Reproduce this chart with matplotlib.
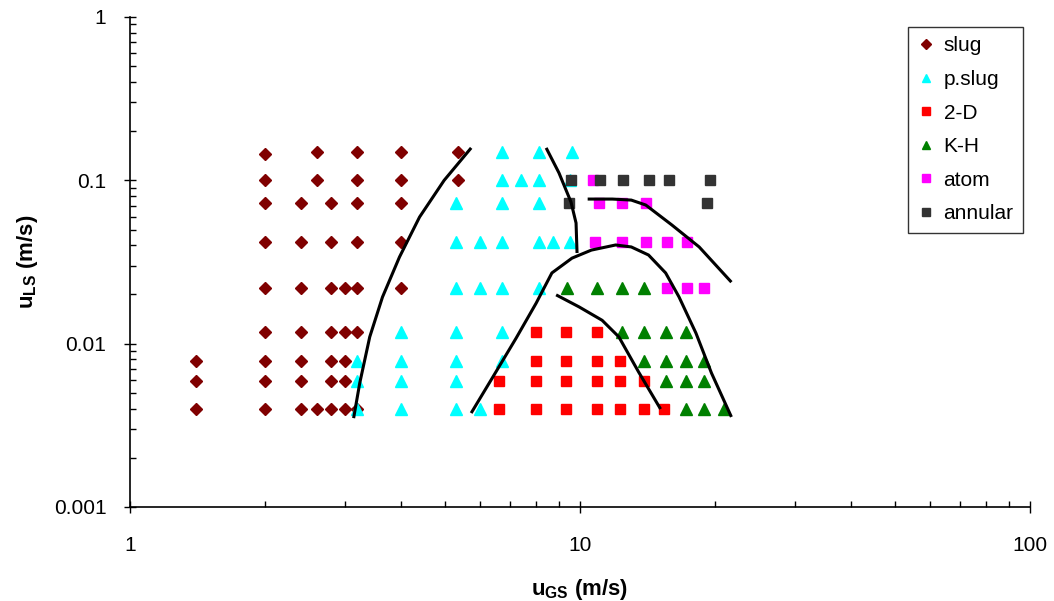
import numpy as np
import matplotlib.pyplot as plt
from matplotlib.ticker import LogLocator, FixedFormatter, FixedLocator

plt.rcParams['font.family'] = ['Liberation Sans', 'DejaVu Sans']
plt.rcParams['mathtext.fontset'] = 'custom'
plt.rcParams['mathtext.rm'] = 'Liberation Sans'
plt.rcParams['mathtext.bf'] = 'Liberation Sans:bold'

# flow regime observations: (u_GS, u_LS) in m/s
slug_x = [1.4, 1.4, 1.4,
          2.0, 2.0, 2.0, 2.0, 2.0, 2.0, 2.0, 2.0, 2.0,
          2.4, 2.4, 2.4, 2.4, 2.4, 2.4, 2.4,
          2.6, 2.6, 2.6,
          2.8, 2.8, 2.8, 2.8, 2.8, 2.8, 2.8,
          3.0, 3.0, 3.0, 3.0, 3.0,
          3.2, 3.2, 3.2, 3.2, 3.2, 3.2, 3.2,
          4.0, 4.0, 4.0, 4.0, 4.0,
          5.35, 5.35]
slug_y = [0.0078, 0.0059, 0.004,
          0.145, 0.1, 0.073, 0.042, 0.022, 0.0118, 0.0078, 0.0059, 0.004,
          0.073, 0.042, 0.022, 0.0118, 0.0078, 0.0059, 0.004,
          0.15, 0.1, 0.004,
          0.073, 0.042, 0.022, 0.0118, 0.0078, 0.0059, 0.004,
          0.022, 0.0118, 0.0078, 0.0059, 0.004,
          0.15, 0.1, 0.073, 0.042, 0.022, 0.0118, 0.004,
          0.15, 0.1, 0.073, 0.042, 0.022,
          0.15, 0.1]

pslug_x = [3.2, 3.2, 3.2,
           4.0, 4.0, 4.0, 4.0,
           5.3, 5.3, 5.3, 5.3, 5.3, 5.3, 5.3,
           6.0, 6.0, 6.0,
           6.7, 6.7, 6.7, 6.7, 6.7, 6.7, 6.7,
           7.4,
           8.1, 8.1, 8.1, 8.1, 8.1,
           8.7, 9.5, 9.6, 9.5]
pslug_y = [0.0078, 0.0059, 0.004,
           0.0118, 0.0078, 0.0059, 0.004,
           0.073, 0.042, 0.022, 0.0118, 0.0078, 0.0059, 0.004,
           0.042, 0.022, 0.004,
           0.15, 0.1, 0.073, 0.042, 0.022, 0.0118, 0.0078,
           0.1,
           0.15, 0.1, 0.073, 0.042, 0.022,
           0.042, 0.042, 0.15, 0.1]

twod_x = [6.6, 6.6,
          8.0, 8.0, 8.0, 8.0,
          9.3, 9.3, 9.3, 9.3,
          10.9, 10.9, 10.9, 10.9,
          12.3, 12.3, 12.3,
          13.9, 13.9,
          15.4]
twod_y = [0.0059, 0.004,
          0.0118, 0.0078, 0.0059, 0.004,
          0.0118, 0.0078, 0.0059, 0.004,
          0.0118, 0.0078, 0.0059, 0.004,
          0.0078, 0.0059, 0.004,
          0.0059, 0.004,
          0.004]

kh_x = [9.36, 10.9, 12.4, 13.9,
        12.4, 13.9, 15.5, 17.2,
        13.9, 15.5, 17.2, 18.9,
        15.5, 17.2, 18.9,
        17.2, 18.9, 20.9]
kh_y = [0.022, 0.022, 0.022, 0.022,
        0.0118, 0.0118, 0.0118, 0.0118,
        0.0078, 0.0078, 0.0078, 0.0078,
        0.0059, 0.0059, 0.0059,
        0.004, 0.004, 0.004]

atom_x = [10.7, 11.0, 12.4, 14.0,
          10.8, 12.4, 14.0, 15.6, 17.3,
          15.6, 17.3, 18.9]
atom_y = [0.1, 0.073, 0.073, 0.073,
          0.042, 0.042, 0.042, 0.042, 0.042,
          0.022, 0.022, 0.022]

annular_x = [9.55, 11.1, 12.45, 14.2, 15.8, 19.4, 9.45, 19.2]
annular_y = [0.1, 0.1, 0.1, 0.1, 0.1, 0.1, 0.073, 0.073]

# hand-drawn regime boundaries
b1_x = [3.14, 3.24, 3.41, 3.64, 3.97, 4.40, 4.99, 5.73]
b1_y = [0.0035, 0.00574, 0.011, 0.0193, 0.0339, 0.0596, 0.1, 0.158]
b2_x = [8.41, 8.98, 9.55, 9.80, 9.85]
b2_y = [0.158, 0.111, 0.0736, 0.0548, 0.0359]
b3_x = [5.73, 6.38, 7.21, 7.99, 8.66, 9.60, 10.6, 12.0, 13.0, 14.2, 15.5, 16.6, 18.1, 19.6, 21.7]
b3_y = [0.00376, 0.00615, 0.0108, 0.0177, 0.0271, 0.0334, 0.0374, 0.0402, 0.0391,
        0.0349, 0.0271, 0.0193, 0.0116, 0.0066, 0.00356]
b4_x = [10.4, 11.8, 13.0, 14.0, 16.0, 18.4, 21.7]
b4_y = [0.0768, 0.0768, 0.0757, 0.0706, 0.0533, 0.0391, 0.0238]
b5_x = [8.85, 9.95, 11.2, 12.2, 13.5, 15.1]
b5_y = [0.0199, 0.0168, 0.0139, 0.0110, 0.0067, 0.00398]

fig = plt.figure(figsize=(10.54, 6.01), dpi=100)
ax = fig.add_axes([130 / 1054, 1 - 507 / 601, 900 / 1054, 490 / 601])

ms = 7
ax.plot(slug_x, slug_y, 'D', color='#800000', ms=6, ls='none', label='slug')
ax.plot(pslug_x, pslug_y, '^', color='#00FFFF', ms=ms + 1, ls='none', label='p.slug')
ax.plot(twod_x, twod_y, 's', color='#FF0000', ms=ms, ls='none', label='2-D')
ax.plot(kh_x, kh_y, '^', color='#008000', ms=ms + 1, ls='none', label='K-H')
ax.plot(atom_x, atom_y, 's', color='#FF00FF', ms=ms, ls='none', label='atom')
ax.plot(annular_x, annular_y, 's', color='#333333', ms=ms, ls='none', label='annular')

for bx, by in [(b1_x, b1_y), (b2_x, b2_y), (b3_x, b3_y), (b4_x, b4_y), (b5_x, b5_y)]:
    ax.plot(bx, by, color='black', lw=2.2, solid_capstyle='butt')

ax.set_xscale('log')
ax.set_yscale('log')
ax.set_xlim(1, 100)
ax.set_ylim(0.001, 1)

ax.xaxis.set_major_locator(FixedLocator([1, 10, 100]))
ax.xaxis.set_major_formatter(FixedFormatter(['1', '10', '100']))
ax.yaxis.set_major_locator(FixedLocator([0.001, 0.01, 0.1, 1]))
ax.yaxis.set_major_formatter(FixedFormatter(['0.001', '0.01', '0.1', '1']))
ax.xaxis.set_minor_locator(LogLocator(base=10, subs=np.arange(2, 10)))
ax.yaxis.set_minor_locator(LogLocator(base=10, subs=np.arange(2, 10)))
ax.xaxis.set_minor_formatter(FixedFormatter([]))
ax.yaxis.set_minor_formatter(FixedFormatter([]))

ax.tick_params(which='major', direction='inout', length=8, width=1, labelsize=15)
ax.tick_params(which='minor', direction='in', length=4, width=1)
ax.tick_params(axis='x', which='major', pad=17)
ax.tick_params(axis='y', which='major', pad=13)

for s in ['top', 'right']:
    ax.spines[s].set_visible(False)
for s in ['left', 'bottom']:
    ax.spines[s].set_linewidth(1.2)

ax.set_xlabel(r'$\mathbf{u_{GS}}$ (m/s)', fontsize=16, fontweight='bold')
ax.set_ylabel(r'$\mathbf{u_{LS}}$ (m/s)', fontsize=16, fontweight='bold')
ax.xaxis.set_label_coords(0.5, -0.143)
ax.yaxis.set_label_coords(-0.1, 0.5)

leg = ax.legend(loc='upper right', bbox_to_anchor=(1023 / 1054, 1 - 27 / 601),
                bbox_transform=fig.transFigure, fontsize=15, frameon=True, fancybox=False,
                edgecolor='black', handlelength=0.8, handletextpad=0.45, labelspacing=0.7,
                borderpad=0.45, borderaxespad=0, markerscale=0.8)
leg.get_frame().set_linewidth(1.0)

fig.savefig('out.png', dpi=100)
